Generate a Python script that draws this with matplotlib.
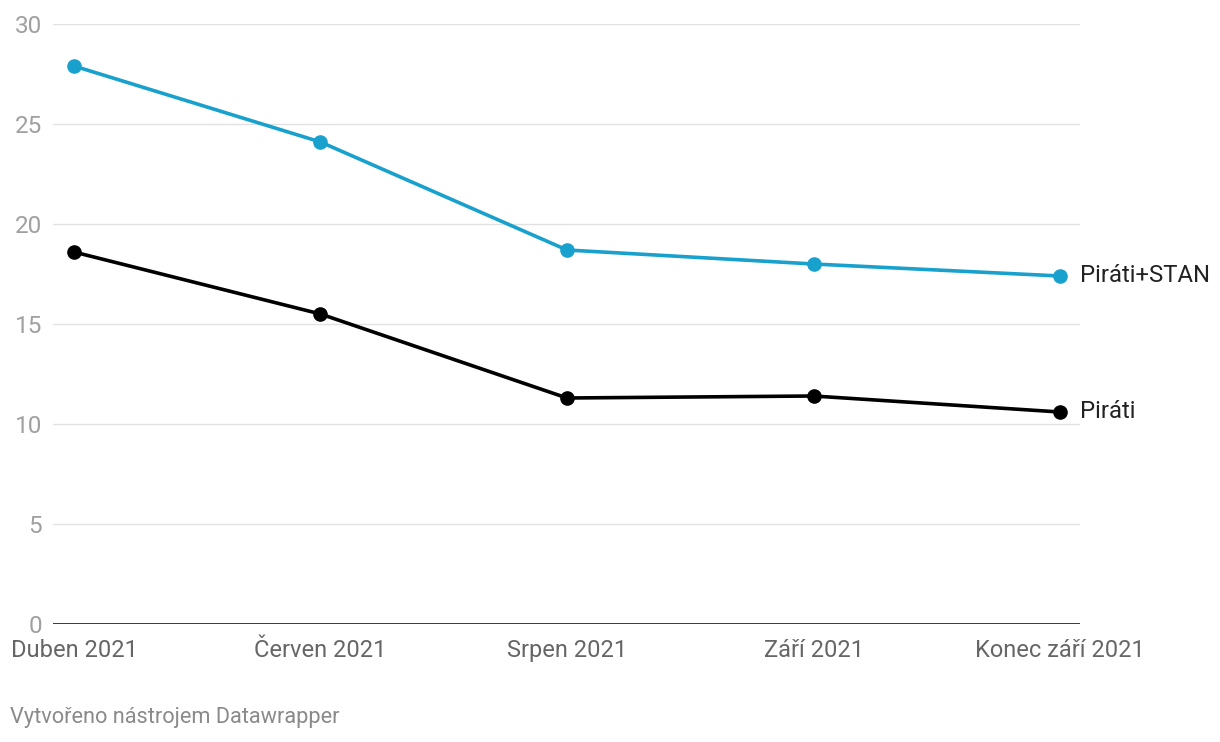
import matplotlib
matplotlib.use("Agg")
import matplotlib.pyplot as plt

plt.rcParams['font.family'] = ['Roboto', 'DejaVu Sans']

categories = ["Duben 2021", "Červen 2021", "Srpen 2021", "Září 2021", "Konec září 2021"]
pirati_stan = [27.9, 24.1, 18.7, 18.0, 17.4]
pirati = [18.6, 15.5, 11.3, 11.4, 10.6]
series_names = ["Piráti+STAN", "Piráti"]
y_ticks = [0, 5, 10, 15, 20, 25, 30]

W, H = 1220, 742
fig = plt.figure(figsize=(W / 100, H / 100), dpi=100)
left, right = 53 / W, 1080 / W
bottom, top = 1 - 624 / H, 1 - 24 / H
ax = fig.add_axes([left, bottom, right - left, top - bottom])

x = list(range(len(categories)))
blue = "#18a1cd"
ax.plot(x, pirati_stan, color=blue, lw=2.6, marker="o", ms=9.5, zorder=3, clip_on=False)
ax.plot(x, pirati, color="#000000", lw=2.6, marker="o", ms=9.5, zorder=3, clip_on=False)

ax.set_ylim(0, 30)
ax.set_xlim(-0.085, 4.081)
ax.set_yticks(y_ticks)
ax.set_yticklabels([str(t) for t in y_ticks])
ax.set_xticks(x)
ax.set_xticklabels(categories)

for s in ax.spines.values():
    s.set_visible(False)
ax.grid(axis='y', color="#e1e1e1", lw=1)
ax.set_axisbelow(True)
ax.axhline(0, color="#000000", lw=1.8, zorder=2)

ax.tick_params(axis='y', length=0, pad=8, labelsize=17.5, labelcolor="#a0a0a0")
ax.tick_params(axis='x', length=0, pad=11, labelsize=17, labelcolor="#666666")

# series labels at line ends
ax.annotate(series_names[0], xy=(x[-1], pirati_stan[-1]), xytext=(20, 0),
            textcoords='offset pixels', va='center', ha='left', fontsize=17.2, color="#222222",
            annotation_clip=False)
ax.annotate(series_names[1], xy=(x[-1], pirati[-1]), xytext=(20, 0),
            textcoords='offset pixels', va='center', ha='left', fontsize=17.2, color="#222222",
            annotation_clip=False)

fig.text(10 / W, 1 - 718 / H, "Vytvořeno nástrojem Datawrapper", fontsize=15.7,
         color="#8a8a8a", va='center', ha='left')

fig.savefig("out.png", dpi=100)
